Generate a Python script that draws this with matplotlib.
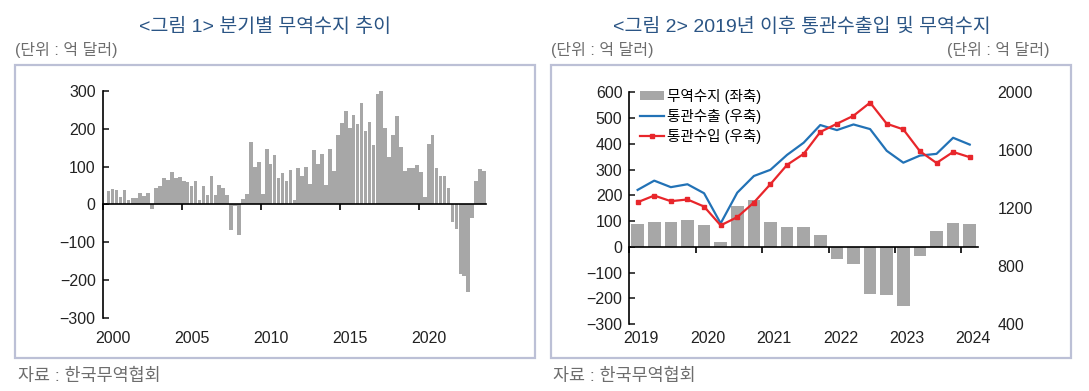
import matplotlib
matplotlib.use("Agg")
import matplotlib.pyplot as plt
import matplotlib.transforms as mtransforms
from matplotlib.patches import Rectangle
import numpy as np

plt.rcParams['font.family'] = ['Liberation Sans', 'Noto Sans CJK KR']
plt.rcParams['axes.unicode_minus'] = True

# Quarterly trade balance, 2000Q1 - 2024Q1 (100 million USD)
balance = [5, 35, 40, 37, 19, 37, 13, 18, 18, 30, 22, 30,
           -13, 43, 48, 70, 64, 86, 69, 72, 61, 59, 48, 61,
           12, 48, 24, 75, 24, 51, 43, 26, -68, -4, -80, 14,
           29, 164, 99, 111, 28, 146, 106, 130, 70, 83, 62, 91,
           11, 96, 74, 99, 55, 143, 107, 133, 51, 146, 88, 183,
           216, 247, 203, 237, 213, 268, 194, 218, 157, 292, 303, 202,
           126, 184, 235, 152, 88, 97, 97, 105, 86, 19, 160, 183,
           97, 75, 75, 44, -46, -66, -185, -188, -230, -37, 63, 94, 89]

# Customs exports / imports, 2019Q1 - 2024Q1
exports = [1326, 1390, 1345, 1365, 1303, 1095, 1307, 1422, 1465, 1568, 1652,
           1774, 1739, 1778, 1746, 1596, 1514, 1563, 1575, 1686, 1639]
imports = [1241, 1287, 1248, 1260, 1211, 1081, 1138, 1239, 1366, 1499, 1575,
           1726, 1783, 1838, 1929, 1783, 1744, 1593, 1512, 1588, 1552]
balance_recent = balance[76:]

years1 = [2000, 2005, 2010, 2015, 2020]
years2 = [2019, 2020, 2021, 2022, 2023, 2024]

BAR = '#a7a7a7'
BLUE = '#2272b6'
RED = '#e8262b'
TITLE = '#2b5585'
GREY_TXT = '#6d6d6d'
BOX = '#bcc0d6'

fig = plt.figure(figsize=(10.89, 3.91), dpi=100)

# panel boxes
for x0 in (0.0138, 0.506):
    fig.patches.append(Rectangle((x0, 0.085), 0.4775, 0.749, transform=fig.transFigure,
                                 fill=False, edgecolor=BOX, linewidth=1.6))

fig.text(0.2433, 0.931, '<그림 1> 분기별 무역수지 추이', ha='center', va='center',
         fontsize=14, color=TITLE)
fig.text(0.7365, 0.931, '<그림 2> 2019년 이후 통관수출입 및 무역수지', ha='center', va='center',
         fontsize=14, color=TITLE)
fig.text(0.0138, 0.872, '(단위 : 억 달러)', ha='left', va='center', fontsize=11.5, color=GREY_TXT)
fig.text(0.506, 0.872, '(단위 : 억 달러)', ha='left', va='center', fontsize=11.5, color=GREY_TXT)
fig.text(0.964, 0.872, '(단위 : 억 달러)', ha='right', va='center', fontsize=11.5, color=GREY_TXT)
fig.text(0.0165, 0.038, '자료 : 한국무역협회', ha='left', va='center', fontsize=12.5, color=GREY_TXT)
fig.text(0.508, 0.038, '자료 : 한국무역협회', ha='left', va='center', fontsize=12.5, color=GREY_TXT)


def style_axis(ax, xlim, ylim, yticks, xticks, label_dx, label_pad):
    ax.set_xlim(*xlim)
    ax.set_ylim(*ylim)
    ax.set_yticks(yticks)
    ax.spines['top'].set_visible(False)
    ax.spines['right'].set_visible(False)
    ax.spines['bottom'].set_position(('data', 0))
    ax.spines['left'].set_linewidth(1.2)
    ax.spines['bottom'].set_linewidth(1.2)
    ax.tick_params(axis='y', direction='in', length=4, width=1.2, labelsize=11.5,
                   pad=5, colors='#222222')
    ax.set_xticks(xticks)
    ax.tick_params(axis='x', direction='out', length=4, width=1.2, labelbottom=False)
    sec = ax.secondary_xaxis('bottom')
    sec.set_xticks(xticks)
    sec.set_xticklabels([str(y) for y in xticks])
    sec.spines['bottom'].set_visible(False)
    sec.tick_params(length=0, labelsize=11.5, pad=label_pad, colors='#222222')
    off = mtransforms.ScaledTranslation(label_dx / 100, 0, fig.dpi_scale_trans)
    for lab in sec.get_xticklabels():
        lab.set_transform(lab.get_transform() + off)
    return sec


# ---- chart 1 ----
ax1 = fig.add_axes([0.0943, 0.1867, 0.352, 0.5806])
x1 = 2000 + 0.25 * np.arange(len(balance)) + 0.125
ax1.bar(x1, balance, width=0.23, color=BAR, zorder=2)
style_axis(ax1, (2000, 2024.25), (-300, 300), range(-300, 301, 100), years1, 10, 9)

# ---- chart 2 ----
ax2 = fig.add_axes([0.5779, 0.1714, 0.3202, 0.5925])
x2 = 2019 + 0.25 * np.arange(len(balance_recent)) + 0.125
b = ax2.bar(x2, balance_recent, width=0.19, color=BAR, zorder=2, label='무역수지 (좌축)')
style_axis(ax2, (2019, 2024.25), (-300, 600), range(-300, 601, 100), years2, 12, 5)

ax3 = ax2.twinx()
ax3.set_ylim(400, 2000)
ax3.set_yticks([400, 800, 1200, 1600, 2000])
for s in ax3.spines.values():
    s.set_visible(False)
ax3.tick_params(axis='y', length=0, labelsize=11.5, pad=14, colors='#222222')
l1, = ax3.plot(x2, exports, color=BLUE, linewidth=1.6, label='통관수출 (우축)')
l2, = ax3.plot(x2, imports, color=RED, linewidth=1.6, marker='s', markersize=3.5,
               label='통관수입 (우축)')

ax3.legend(handles=[b, l1, l2], loc='upper left', bbox_to_anchor=(0.015, 1.04),
           frameon=False, fontsize=10.5, handlelength=1.6, handleheight=0.6,
           handletextpad=0.2, labelspacing=0.35, borderaxespad=0)

fig.savefig('out.png', dpi=100)
